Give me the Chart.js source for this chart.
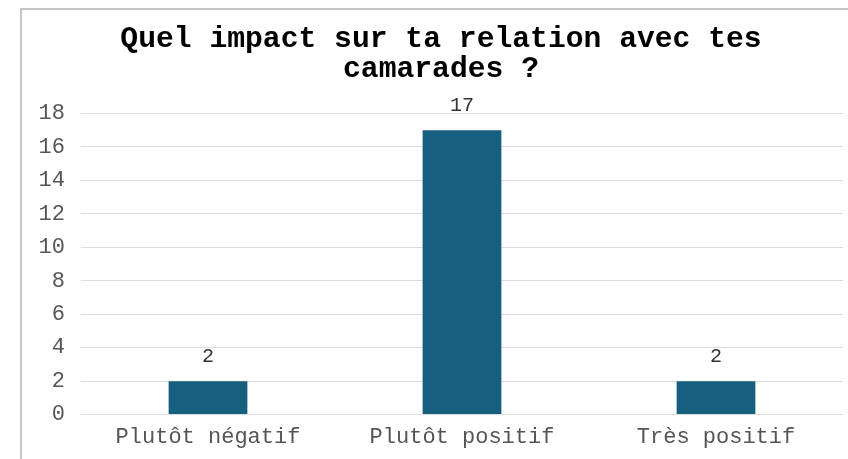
<!DOCTYPE html>
<html>
<head>
<meta charset="utf-8">
<script src="https://cdn.jsdelivr.net/npm/chart.js@4/dist/chart.umd.min.js"></script>
<style>
  html, body { margin: 0; padding: 0; background: #fff; overflow: hidden; }
  #cadre { position: absolute; left: 20px; top: 8px; width: 900px; height: 500px; border: 2px solid #c4c4c4; }
  #zone { position: absolute; left: 0; top: 0; width: 848px; height: 459px; }
</style>
</head>
<body>
<div id="cadre"></div>
<div id="zone"><canvas id="graf"></canvas></div>
<script>
const categories = ["Plutôt négatif", "Plutôt positif", "Très positif"];
const valeurs = [2, 17, 2];
const titre = ["Quel impact sur ta relation avec tes", "camarades ?"];

const police = "'Liberation Mono', 'DejaVu Sans Mono', monospace";

// etiquettes au-dessus des barres (pas de plugin datalabels hors ligne)
const etiquettes = {
    id: "etiquettes",
    afterDatasetsDraw(chart) {
        const ctx = chart.ctx;
        const meta = chart.getDatasetMeta(0);
        ctx.save();
        ctx.font = "20px " + police;
        ctx.fillStyle = "#333";
        ctx.textAlign = "center";
        ctx.textBaseline = "alphabetic";
        meta.data.forEach(function(bar, i) {
            ctx.fillText(String(valeurs[i]), bar.x, bar.y - 19);
        });
        ctx.restore();
    }
};

new Chart(document.getElementById("graf"), {
    type: "bar",
    data: {
        labels: categories,
        datasets: [{
            data: valeurs,
            backgroundColor: "#175f7f",
            borderWidth: 0,
            barPercentage: 0.31,
            categoryPercentage: 1
        }]
    },
    options: {
        responsive: true,
        maintainAspectRatio: false,
        animation: false,
        layout: { padding: { left: 39, right: 5, top: 0, bottom: 0 } },
        plugins: {
            legend: { display: false },
            tooltip: { enabled: false },
            title: {
                display: true,
                text: titre,
                color: "#000",
                font: { family: police, size: 29.7, weight: "bold", lineHeight: 1.0 },
                padding: { top: 25, bottom: 29 }
            }
        },
        scales: {
            x: {
                grid: { display: false, drawTicks: false },
                border: { display: false },
                ticks: { color: "#555", font: { family: police, size: 22 }, padding: 9, maxRotation: 0 }
            },
            y: {
                min: 0,
                max: 18,
                grid: { color: "#dcdcdc", lineWidth: 1, drawTicks: false },
                border: { display: false },
                ticks: { stepSize: 2, color: "#555", font: { family: police, size: 22 }, padding: 16 },
                afterFit: function(scale) { scale.width = 42; }
            }
        }
    },
    plugins: [etiquettes]
});
</script>
</body>
</html>
